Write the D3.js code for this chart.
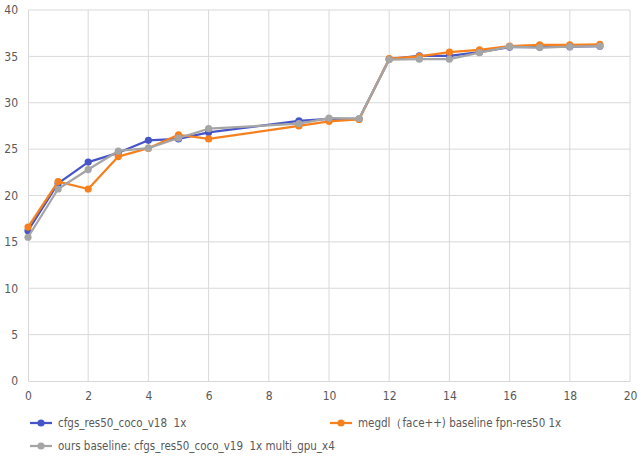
<!DOCTYPE html>
<html>
<head>
<meta charset="utf-8">
<script src="https://cdn.jsdelivr.net/npm/d3@7"></script>
<style>
  body { margin: 0; background: #fff; }
  text { font-family: "Liberation Sans Narrow", "DejaVu Sans Condensed", sans-serif; fill: #595959; }
</style>
</head>
<body>
<div id="chart"></div>
<script>
var svgWidth = 644
var svgHeight = 464

// data
var epochs = [0, 1, 2, 3, 4, 5, 6, 9, 10, 11, 12, 13, 14, 15, 16, 17, 18, 19];
var v18 = [16.2, 21.3, 23.6, 24.6, 25.95, 26.1, 26.8, 28.05, 28.25, 28.25, 34.7, 35.05, 35.05, 35.45, 36.0, 36.0, 36.05, 36.1];
var megdl = [16.6, 21.5, 20.7, 24.2, 25.1, 26.55, 26.1, 27.5, 28.0, 28.2, 34.75, 35.0, 35.45, 35.7, 36.1, 36.25, 36.25, 36.3];
var oursV19 = [15.5, 20.7, 22.8, 24.8, 25.1, 26.2, 27.2, 27.75, 28.35, 28.3, 34.65, 34.7, 34.7, 35.4, 36.05, 35.95, 36.05, 36.1];

var seriesNames = ["cfgs_res50_coco_v18  1x", "megdl\uFF08face++) baseline fpn-res50 1x", "ours baseline: cfgs_res50_coco_v19  1x multi_gpu_x4"];
var seriesColors = ["#4654C8", "#F7801E", "#A5A5A5"];
var xTicks = d3.range(0, 21, 2);
var yTicks = d3.range(0, 41, 5);

var margin = { top: 10, right: 14, bottom: 83, left: 28 };
var width = svgWidth - margin.left - margin.right;
var height = svgHeight - margin.top - margin.bottom;

var svg = d3.select("#chart")
  .append("svg")
  .attr("width", svgWidth)
  .attr("height", svgHeight);

var g = svg.append("g")
  .attr("transform", `translate(${margin.left}, ${margin.top})`);

var x = d3.scaleLinear().domain([0, 20]).range([0, width]);
var y = d3.scaleLinear().domain([0, 40]).range([height, 0]);

// gridlines
g.append("g").selectAll("line").data(yTicks.filter(d => d > 0)).enter()
  .append("line")
  .attr("x1", 0).attr("x2", width)
  .attr("y1", d => y(d)).attr("y2", d => y(d))
  .attr("stroke", "#d9d9d9").attr("stroke-width", 1);

g.append("g").selectAll("line").data(xTicks.filter(d => d > 0)).enter()
  .append("line")
  .attr("x1", d => x(d)).attr("x2", d => x(d))
  .attr("y1", 0).attr("y2", height)
  .attr("stroke", "#d9d9d9").attr("stroke-width", 1);

// axes
var bottomAxis = d3.axisBottom(x).tickValues(xTicks).tickSize(0).tickPadding(10);
var leftAxis = d3.axisLeft(y).tickValues(yTicks).tickSize(0).tickPadding(10);

var xAxisG = g.append("g")
  .attr("transform", `translate(0, ${height})`)
  .call(bottomAxis);
xAxisG.select(".domain").attr("stroke", "#d9d9d9");

var yAxisG = g.append("g").call(leftAxis);
yAxisG.select(".domain").attr("stroke", "#d9d9d9");

svg.selectAll(".tick text").attr("font-size", 12).style("font-family", null);

// series
var allSeries = [v18, megdl, oursV19];
var line = d3.line()
  .x((d, i) => x(epochs[i]))
  .y(d => y(d));

allSeries.forEach(function(vals, k) {
  g.append("path")
    .datum(vals)
    .attr("d", line)
    .attr("fill", "none")
    .attr("stroke", seriesColors[k])
    .attr("stroke-width", 2.25)
    .attr("stroke-linejoin", "round");
  g.append("g").selectAll("circle").data(vals).enter()
    .append("circle")
    .attr("cx", (d, i) => x(epochs[i]))
    .attr("cy", d => y(d))
    .attr("r", 3.6)
    .attr("fill", seriesColors[k]);
});

// legend
var legendPos = [[30, 423], [330, 423], [30, 446]];
seriesNames.forEach(function(name, k) {
  var lg = svg.append("g")
    .attr("transform", `translate(${legendPos[k][0]}, ${legendPos[k][1]})`);
  lg.append("line")
    .attr("x1", 0).attr("x2", 22)
    .attr("stroke", seriesColors[k]).attr("stroke-width", 2.25);
  lg.append("circle").attr("cx", 11).attr("r", 3.6).attr("fill", seriesColors[k]);
  lg.append("text")
    .attr("x", 28).attr("dy", "0.35em")
    .attr("font-size", 11.5)
    .style("white-space", "pre")
    .text(name);
});
</script>
</body>
</html>
